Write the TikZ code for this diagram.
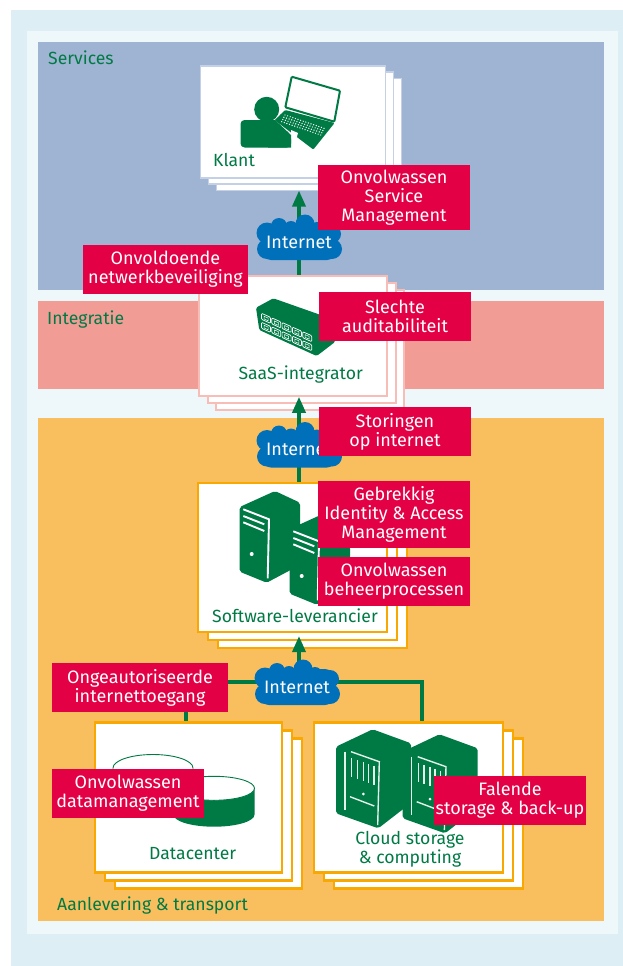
\documentclass[tikz,border=0pt]{standalone}
\usepackage{fontspec}
\setmainfont{Fira Sans}
\usetikzlibrary{arrows.meta,shadows}
\definecolor{pagebg}{HTML}{DDEEF5}
\definecolor{innerbg}{HTML}{EEF8FB}
\definecolor{servicesbg}{HTML}{9FB3D3}
\definecolor{integratiebg}{HTML}{F29C96}
\definecolor{transportbg}{HTML}{F9BF5F}
\definecolor{iconkleur}{HTML}{007A45}
\definecolor{riskred}{HTML}{E30045}
\definecolor{netblue}{HTML}{0070BB}
\definecolor{klantline}{HTML}{C3D0E6}
\definecolor{saasline}{HTML}{F7BDB6}
\definecolor{orangeline}{HTML}{F8A800}
\newcommand{\servertower}[2]{
    \begin{scope}[shift={(#1,#2)}]
        \fill [iconkleur, rounded corners=2pt] (0,0) -- (35.3,-16) -- (60.3,-4.3) -- (60.3,58) -- (27,75.7) -- (0,64.7) -- cycle;
        \draw [white, line width=1.9pt] (3.6,2.3) -- (29.3,12.3) -- (28,71.3);
        \draw [white, line width=1.9pt] (3.6,9) -- (24.6,17.3);
        \draw [white, line width=1.9pt] (3.6,15.3) -- (24.6,24);
        \fill [white] (12,47) circle (2pt);
    \end{scope}
}
\newcommand{\cloudtower}[2]{
    \begin{scope}[shift={(#1,#2)}]
        \fill [iconkleur, rounded corners=2pt] (0,0) -- (36.7,-17.4) -- (75,-3.4) -- (75,56.3) -- (42.3,81.6) -- (0,66.6) -- cycle;
        \draw [white!90!iconkleur, line width=1.4pt] (9,5) -- (9,63.3);
        \draw [white!90!iconkleur, line width=1.4pt] (15,5) -- (43.3,15) -- (41.7,78.3);
        \foreach \vx in {15.7,21.3,27.3,32.3,38}
            \draw [white!90!iconkleur, line width=1.4pt] (\vx,{11.6+(\vx-15.7)*.33}) -- ++(0,19);
        \draw [white!90!iconkleur, line width=1.4pt] (14,50) -- (38.3,59.3);
        \fill [white] (27.3,47.3) circle (1.5pt);
    \end{scope}
}
\newcommand{\netcloud}[2]{
    \foreach \dx/\dy/\r in {-32/-9/10.5,-32/7/10,-20/-16/8,-8/-14/7,6/-18/9.5,18/-13/7,33/-8/9,33/7/10}
        \fill [netblue] ([shift={(\dx,\dy)}]#2) circle (\r pt);
    \node (#1) [netbox] at (#2) {Internet};
}
\begin{document}
\begin{tikzpicture}[x=1pt,y=-1pt,node distance=220pt]
        \tikzstyle{stack} = [rectangle, fill=white, inner sep=0pt, minimum width=187pt, minimum height=150pt]
        \tikzstyle{klantbox} = [stack, draw=klantline, line width=1.5pt, double copy shadow={shadow xshift=8pt, shadow yshift=-6.3pt, draw=klantline, line width=1.5pt}]
        \tikzstyle{saasbox} = [stack, draw=saasline, line width=2pt, double copy shadow={shadow xshift=8.5pt, shadow yshift=-7pt, draw=saasline, line width=2pt}]
        \tikzstyle{orangebox} = [stack, draw=orangeline, line width=2.5pt, double copy shadow={shadow xshift=10pt, shadow yshift=-8pt, draw=orangeline, line width=2.5pt}]
        \tikzstyle{risk} = [rectangle, fill=riskred, text=white, align=center, inner sep=0pt, minimum width=152pt, minimum height=49pt, font=\fontsize{18}{19}\selectfont]
        \tikzstyle{netbox} = [rectangle, rounded corners=8pt, fill=netblue, text=white, inner sep=0pt, minimum width=72pt, minimum height=36pt, font=\fontsize{18}{19}\selectfont]
        \tikzstyle{boxtext} = [text=iconkleur, align=center, inner sep=0pt, font=\fontsize{17.6}{19}\selectfont]
        \tikzstyle{arrow} = [iconkleur, line width=3.5pt, -{Stealth[width=13pt,length=16pt,inset=0pt]}]
        \tikzstyle{link} = [iconkleur, line width=4pt]

        \useasboundingbox (0,0) rectangle (623,966);
        \fill [pagebg] (11,10) rectangle (623,966);
        \fill [innerbg] (27,31) rectangle (618,934);
        \fill [servicesbg] (38,42) rectangle (604,290);
        \fill [integratiebg] (38,301) rectangle (604,389);
        \fill [transportbg] (38,418) rectangle (604,921);

        \node (services) [boxtext, anchor=west] at (48,58) {Services};
        \node (integratie) [boxtext, anchor=west] at (47,320) {Integratie};
        \node (transport) [boxtext, anchor=west] at (57,905) {Aanlevering \& transport};

        \node (klant) [klantbox, minimum width=185pt, minimum height=112pt] at (293.2,121.8) {};
        \node (saas) [saasbox, minimum width=188pt, minimum height=120pt, below of=klant, yshift=6pt] {};
        \node (soft) [orangebox, minimum width=189pt, minimum height=149pt, below of=saas, xshift=-.5pt, yshift=-1.5pt] {};
        \node (data) [orangebox, below of=soft, xshift=-104pt, yshift=-20pt] {};
        \node (cloudbox) [orangebox, minimum width=189pt, right of=data] {};

        \node (klanttext) [boxtext, anchor=west] at (213,160) {Klant};
        \node (saastext) [boxtext] at (300.7,375) {SaaS-integrator};
        \node (softtext) [boxtext] at (295,616) {Software-leverancier};
        \node (datatext) [boxtext] at (192.7,854) {Datacenter};
        \node (cloudtext) [boxtext] at (410,849.5) {Cloud storage\\\& computing};

        \fill [iconkleur, rounded corners=1pt] (285.3,110) -- (334.5,123) -- (313.3,149.5) -- (274.5,120) -- cycle;
        \draw [iconkleur, fill=white, line width=2pt, rounded corners=1pt] (291.7,76.7) -- (340,90.7) -- (334.3,121.7) -- (285.3,107.3) -- cycle;
        \foreach \i in {0,...,15}
            \foreach \j in {0,...,3}
                \fill [white] ({285+\i*2.6-\j*1.1},{115+\i*.887+\j*2.23}) circle (.7pt);
        \fill [white] (291,130) -- (298,133) -- (296,140) -- (291,140) -- cycle;
        \draw [white, line width=1pt] (275,119) -- (279,115);
        \fill [iconkleur] (266.7,109.3) circle (12.5pt);
        \fill [iconkleur, rounded corners=4pt] (240.5,147.5) -- (240.5,120) -- (274,120) -- (291,135) -- (291,147.5) -- cycle;
        \fill [iconkleur] (268,120) -- (275,120) -- (291,135) -- (291,147.5) -- (268,147.5) -- cycle;

        \fill [iconkleur, rounded corners=1.5pt] (256,307.7) -- (273.3,298.3) -- (335,320) -- (335,342) -- (316.7,356) -- (259.3,330) -- cycle;
        \foreach \p in {0,...,4}
            \foreach \q in {0,1} {
                \begin{scope}[shift={({266+\p*10.3},{318.3+\p*4.6+\q*9})}]
                    \draw [white, line width=.7pt, rounded corners=1pt] (-4.5,-5) -- (4.5,-1) -- (4.5,5) -- (-4.5,1) -- cycle;
                    \draw [white, line width=.5pt] (-2,-2) -- (-2,.7) -- (2,2.4) -- (2,-.3) -- cycle;
                \end{scope}
            }

        \servertower{239.7}{507}
        \servertower{289.7}{529}
        \cloudtower{336}{746.7}
        \cloudtower{402.7}{751.7}

        \draw [iconkleur, fill=white, line width=.9pt] (113,768) arc[start angle=180, end angle=0, x radius=40pt, y radius=13.5pt] -- (193,800) -- (113,800) -- cycle;
        \fill [iconkleur] (173.5,788.3) -- (173.5,814.7) arc[start angle=180, end angle=360, x radius=40.5pt, y radius=12pt] -- (254.5,788.3) -- cycle;
        \draw [iconkleur, fill=white, line width=.9pt] (214,788.3) ellipse (40.5pt and 12pt);

        \coordinate (hub1) at (299,242);
        \coordinate (hub2) at (299,449.5);
        \coordinate (hub3) at (297,687);

        \draw [arrow, shorten >=12pt] (hub1 |- saas.north) -- (hub1 |- klant.south);
        \draw [arrow] (hub2 |- soft.north) -- (hub2 |- saas.south);
        \draw [arrow, shorten >=3pt] (hub2 |- hub3) -- (hub2 |- soft.south);
        \draw [link] ([yshift=5pt]hub3) -| ([xshift=13.2pt]cloudbox.north);
        \draw [link] ([yshift=5pt]hub3) -| ([xshift=-2.5pt]data.north);

        \netcloud{net1}{hub1}
        \netcloud{net2}{hub2}
        \netcloud{net3}{hub3}

        \node (risk1) [risk, minimum height=65pt] at (394,197.5) {Onvolwassen\\Service\\Management};
        \node (risk2) [risk, minimum width=165pt] at (165.5,269.5) {Onvoldoende\\netwerkbeveiliging};
        \node (risk3) [risk] at (395,316.5) {Slechte\\auditabiliteit};
        \node (risk4) [risk] at (395,431.5) {Storingen\\op internet};
        \node (risk5) [risk, minimum height=67pt] at (394,514.5) {Gebrekkig\\Identity \& Access\\Management};
        \node (risk6) [risk] at (394,581.5) {Onvolwassen\\beheerprocessen};
        \node (risk7) [risk, minimum width=176pt] at (140,687.5) {Ongeautoriseerde\\internettoegang};
        \node (risk8) [risk] at (128,793.5) {Onvolwassen\\datamanagement};
        \node (risk9) [risk] at (510,800.5) {Falende\\storage \& back-up};
    \end{tikzpicture}
\end{document}
